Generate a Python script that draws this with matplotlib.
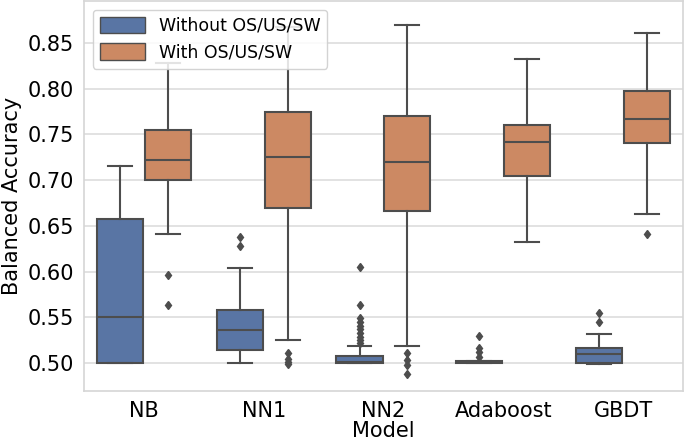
import numpy as np
import matplotlib
matplotlib.use("Agg")
import matplotlib.pyplot as plt
from matplotlib.patches import Patch

models = ["NB", "NN1", "NN2", "Adaboost", "GBDT"]
groups = ["Without OS/US/SW", "With OS/US/SW"]

# box stats: whislo, q1, med, q3, whishi
without_stats = [
    [0.500, 0.500, 0.550, 0.658, 0.715],
    [0.500, 0.514, 0.536, 0.558, 0.604],
    [0.500, 0.500, 0.501, 0.508, 0.519],
    [0.500, 0.500, 0.501, 0.502, 0.502],
    [0.4995, 0.500, 0.5095, 0.516, 0.532],
]
with_stats = [
    [0.641, 0.7005, 0.722, 0.7545, 0.828],
    [0.525, 0.6695, 0.7255, 0.775, 0.867],
    [0.5185, 0.6665, 0.7195, 0.770, 0.870],
    [0.632, 0.705, 0.742, 0.760, 0.832],
    [0.663, 0.7405, 0.767, 0.798, 0.861],
]
without_fliers = [
    [],
    [0.638, 0.628],
    [0.6055, 0.564, 0.549, 0.545, 0.541, 0.537, 0.533, 0.529, 0.525, 0.522],
    [0.5295, 0.516, 0.512, 0.507],
    [0.555, 0.545],
]
with_fliers = [
    [0.5965, 0.5635],
    [0.511, 0.505, 0.501, 0.499],
    [0.5105, 0.503, 0.498, 0.488],
    [],
    [0.6415],
]

colors = ["#5975a4", "#cc8963"]
edge = "#4d4d4d"


def make_stats(stats, fliers):
    out = []
    for s, f in zip(stats, fliers):
        out.append(dict(whislo=s[0], q1=s[1], med=s[2], q3=s[3], whishi=s[4],
                        fliers=f))
    return out


plt.rcParams["font.family"] = "DejaVu Sans"
fig = plt.figure(figsize=(6.85, 4.43), dpi=100)
ax = fig.add_axes([0.1226, 0.1174, 0.8744, 0.8806])

x = np.arange(len(models))
for k, (stats, fliers) in enumerate([(without_stats, without_fliers),
                                     (with_stats, with_fliers)]):
    ax.bxp(make_stats(stats, fliers), positions=x - 0.2 + 0.4 * k, widths=0.385,
           patch_artist=True, showfliers=True,
           boxprops=dict(facecolor=colors[k], edgecolor=edge, linewidth=1.5),
           medianprops=dict(color=edge, linewidth=1.5),
           whiskerprops=dict(color=edge, linewidth=1.5),
           capprops=dict(color=edge, linewidth=1.5),
           flierprops=dict(marker="d", markerfacecolor=edge, markeredgecolor=edge,
                           markersize=4.5, linestyle="none"),
           capwidths=0.2)

ax.set_xlim(-0.5, 4.5)
ax.set_ylim(0.4695, 0.896)
ax.set_xticks(x)
ax.set_xticklabels(models)
ax.set_yticks([0.50, 0.55, 0.60, 0.65, 0.70, 0.75, 0.80, 0.85])
ax.tick_params(labelsize=15, length=0, pad=7)
ax.yaxis.grid(True, color="#dddddd", linewidth=1.2)
ax.set_axisbelow(True)
for sp in ax.spines.values():
    sp.set_color("#d5d5d5")
    sp.set_linewidth(1.2)
ax.set_xlabel("Model", fontsize=15, labelpad=0)
ax.set_ylabel("Balanced Accuracy", fontsize=15)

handles = [Patch(facecolor=c, edgecolor=edge, linewidth=1.0) for c in colors]
ax.legend(handles, groups, loc="upper left", fontsize=12.5, framealpha=0.85,
          borderaxespad=0.5, handlelength=2.6, handleheight=1.1)

fig.savefig("out.png", dpi=100)
